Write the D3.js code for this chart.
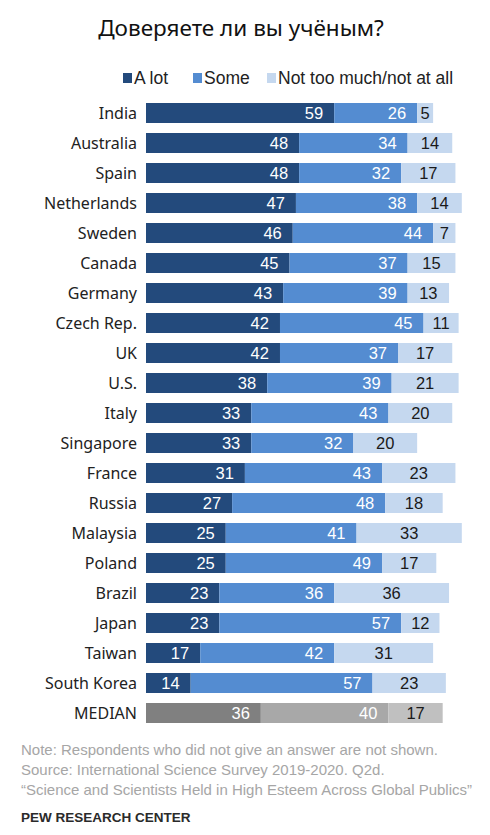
<!DOCTYPE html>
<html>
<head>
<meta charset="utf-8">
<script src="https://cdn.jsdelivr.net/npm/d3@7"></script>
<style>
  body { margin: 0; background: #fff; }
  svg { display: block; }
</style>
</head>
<body>
<script>
const countries = ["India","Australia","Spain","Netherlands","Sweden","Canada","Germany","Czech Rep.","UK","U.S.","Italy","Singapore","France","Russia","Malaysia","Poland","Brazil","Japan","Taiwan","South Korea","MEDIAN"];
const aLot    = [59,48,48,47,46,45,43,42,42,38,33,33,31,27,25,25,23,23,17,14,36];
const some    = [26,34,32,38,44,37,39,45,37,39,43,32,43,48,41,49,36,57,42,57,40];
const notMuch = [5,14,17,14,7,15,13,11,17,21,20,20,23,18,33,17,36,12,31,23,17];
const seriesNames = ["A lot","Some","Not too much/not at all"];
const blues = ["#234a7c","#548cd1","#c5d8ef"];
const grays = ["#808080","#a8a8a8","#c0c0c0"];
const notes = [
  "Note: Respondents who did not give an answer are not shown.",
  "Source: International Science Survey 2019-2020. Q2d.",
  "\u201cScience and Scientists Held in High Esteem Across Global Publics\u201d"
];

const W = 490, H = 835;
const svg = d3.select("body").append("svg").attr("width", W).attr("height", H);

svg.append("text")
  .attr("x", 241).attr("y", 36)
  .attr("text-anchor", "middle")
  .attr("font-family", "Noto Sans, sans-serif")
  .attr("font-size", 22.5)
  .attr("fill", "#111")
  .text("Доверяете ли вы учёным?");

// legend
const legendX = [123, 193, 267];
const legend = svg.append("g").attr("font-family", "Liberation Sans, Arial, sans-serif").attr("font-size", 17.5);
seriesNames.forEach((n, i) => {
  legend.append("rect").attr("x", legendX[i]).attr("y", 73).attr("width", 9).attr("height", 10).attr("fill", blues[i]);
  legend.append("text").attr("x", legendX[i] + 11).attr("y", 84).attr("fill", "#222").text(n);
});

const x = d3.scaleLinear().domain([0, 100]).range([146, 465]);
const y = d3.scaleBand().domain(countries).range([98, 728]).paddingInner(1/3).paddingOuter(1/6);

const rows = countries.map((c, i) => {
  const vals = [aLot[i], some[i], notMuch[i]];
  let acc = 0;
  return { c, segs: vals.map((v, k) => { const s = { k, v, x0: acc, x1: acc + v }; acc += v; return s; }) };
});

// country labels
svg.append("g")
  .selectAll("text")
  .data(countries)
  .enter().append("text")
    .attr("x", 137)
    .attr("y", d => y(d) + y.bandwidth() / 2 + 5.5)
    .attr("text-anchor", "end")
    .attr("font-family", "Noto Sans, sans-serif")
    .attr("font-size", 16)
    .attr("fill", "#222")
    .text(d => d);

const rowG = svg.append("g").selectAll("g")
  .data(rows)
  .enter().append("g")
    .attr("transform", d => `translate(0,${y(d.c)})`);

rowG.selectAll("rect")
  .data(d => d.segs.map(s => Object.assign({ median: d.c === "MEDIAN" }, s)))
  .enter().append("rect")
    .attr("x", d => x(d.x0))
    .attr("width", d => x(d.x1) - x(d.x0))
    .attr("height", y.bandwidth())
    .attr("fill", d => (d.median ? grays : blues)[d.k]);

rowG.selectAll("text")
  .data(d => d.segs)
  .enter().append("text")
    .attr("x", d => d.k < 2 ? x(d.x1) - 11 : (x(d.x0) + x(d.x1)) / 2)
    .attr("y", y.bandwidth() / 2 + 6)
    .attr("text-anchor", d => d.k < 2 ? "end" : "middle")
    .attr("font-family", "Liberation Sans, Arial, sans-serif")
    .attr("font-size", 16.5)
    .attr("fill", d => d.k < 2 ? "#fff" : "#1a1a1a")
    .text(d => d.v);

// footer
svg.append("g")
  .selectAll("text")
  .data(notes)
  .enter().append("text")
    .attr("x", 21)
    .attr("y", (d, i) => 755 + i * 20)
    .attr("font-family", "Liberation Sans, Arial, sans-serif")
    .attr("font-size", 15)
    .attr("fill", "#a6a6a6")
    .text(d => d);

svg.append("text")
  .attr("x", 21).attr("y", 822)
  .attr("font-family", "Liberation Sans, Arial, sans-serif")
  .attr("font-size", 13.5)
  .attr("font-weight", "bold")
  .attr("fill", "#2a2a2a")
  .text("PEW RESEARCH CENTER");
</script>
</body>
</html>
